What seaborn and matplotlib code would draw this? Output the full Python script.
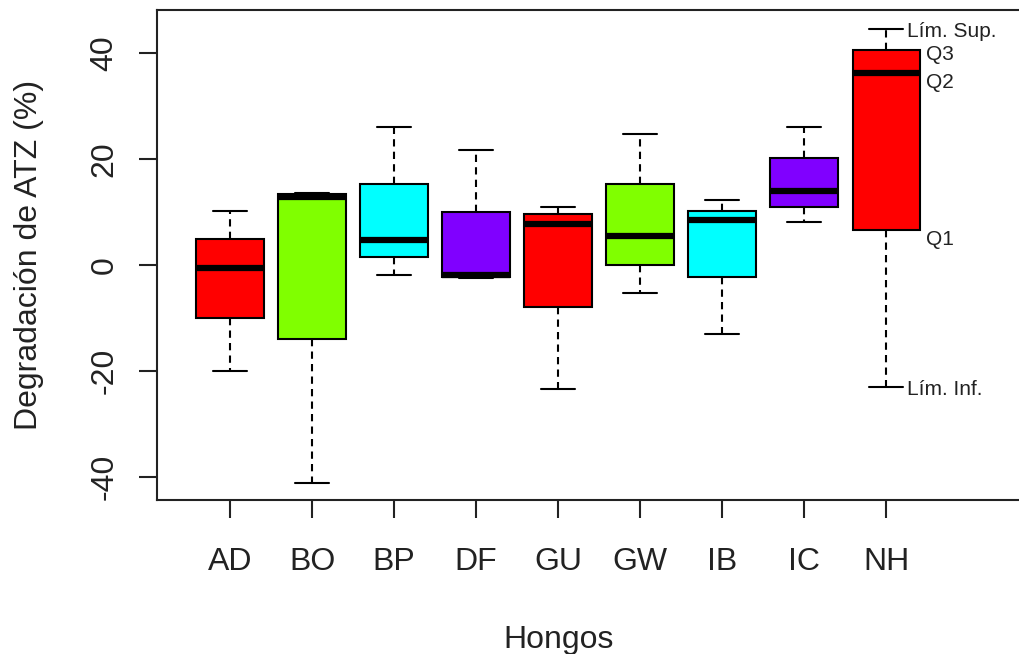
import numpy as np
import pandas as pd
import seaborn as sns
import matplotlib.pyplot as plt

# resumen de cada caja: lim. inf, Q1, Q2, Q3, lim. sup
hongos = ["AD", "BO", "BP", "DF", "GU", "GW", "IB", "IC", "NH"]
lim_inf = [-20.0, -41.1, -1.9, -2.5, -23.4, -5.2, -13.1, 8.2, -23.1]
q1 = [-10.1, -14.0, 1.6, -2.2, -7.9, 0.1, -2.2, 11.0, 6.6]
q2 = [-0.5, 12.9, 4.7, -1.9, 7.8, 5.4, 8.5, 14.0, 36.2]
q3 = [5.0, 13.5, 15.3, 10.0, 9.6, 15.3, 10.3, 20.2, 40.6]
lim_sup = [10.3, 13.7, 26.0, 21.7, 11.0, 24.7, 12.2, 26.0, 44.7]
colores = ["#FF0000", "#80FF00", "#00FFFF", "#8000FF",
           "#FF0000", "#80FF00", "#00FFFF", "#8000FF", "#FF0000"]

# 5 valores por hongo -> los cuartiles salen exactos
filas = []
for i, h in enumerate(hongos):
    for v in (lim_inf[i], q1[i], q2[i], q3[i], lim_sup[i]):
        filas.append((h, v))
df = pd.DataFrame(filas, columns=["hongo", "valor"])

sns.set_style("white")
plt.rcParams["font.family"] = ["Liberation Sans", "DejaVu Sans"]
plt.rcParams["axes.unicode_minus"] = False

fig = plt.figure(figsize=(10.19, 6.54), dpi=100)
ax = fig.add_axes([157 / 1019, 1 - 500 / 654, 1 - 157 / 1019, 490 / 654])

sns.boxplot(data=df, x="hongo", y="valor", hue="hongo", palette=colores,
            legend=False, whis=(0, 100), width=0.82, saturation=1,
            linecolor="black", linewidth=1.5, ax=ax,
            medianprops=dict(linewidth=4.5, color="black"),
            whiskerprops=dict(linestyle=(0, (3.5, 2.5))),
            capprops=dict(linestyle="-"))

ax.set_xlim(-0.89, 9.62)
ax.set_ylim(-44.4, 48.2)
ax.set_yticks([-40, -20, 0, 20, 40])

for s in ["left", "top", "bottom"]:
    ax.spines[s].set_color("#222222")
    ax.spines[s].set_linewidth(1.5)
ax.spines["right"].set_visible(False)

ax.tick_params(axis="both", which="both", direction="out", length=13,
               width=1.5, color="#222222", labelsize=23, labelcolor="#222222",
               left=True, bottom=True)
ax.tick_params(axis="x", pad=21)
ax.tick_params(axis="y", pad=14)
for lab in ax.get_yticklabels():
    lab.set_rotation(90)
    lab.set_va("center")

ax.set_xlabel("Hongos", fontsize=23, color="#222222")
ax.set_ylabel("Degradación de ATZ (%)", fontsize=23, color="#222222")
ax.xaxis.set_label_coords((559 - 157) / (1019 - 157), -0.255)
ax.yaxis.set_label_coords(-0.131, 0.5)

# etiquetas de la caja NH
k = len(hongos) - 1
kw = dict(fontsize=15, color="#222222", va="center", ha="left")
ax.text(k + 0.26, lim_sup[k] - 0.5, "Lím. Sup.", **kw)
ax.text(k + 0.48, q3[k] - 0.8, "Q3", **kw)
ax.text(k + 0.48, q2[k] - 1.7, "Q2", **kw)
ax.text(k + 0.48, q1[k] - 1.7, "Q1", **kw)
ax.text(k + 0.26, lim_inf[k] - 0.5, "Lím. Inf.", **kw)

fig.savefig("out.png", dpi=100)
